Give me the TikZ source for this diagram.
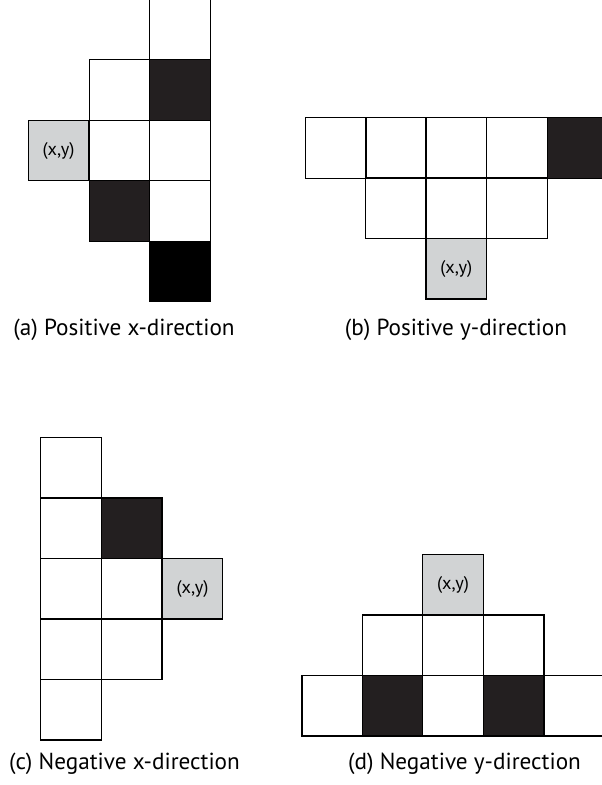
\documentclass[tikz,border=0pt]{standalone}
\usepackage{fontspec}
\setmainfont{PT Sans}
\usetikzlibrary{positioning}
\definecolor{cellgray}{HTML}{D1D3D4}
\definecolor{celldark}{HTML}{231F20}
\tikzset{
    cell/.style = {draw, line width=0.9pt, inner sep=0pt, outer sep=0pt, minimum size=1.515cm},
    darkcell/.style = {cell, fill=celldark},
    blackcell/.style = {cell, fill=black},
    xycell/.style = {cell, fill=cellgray, font=\fontsize{13}{15}\selectfont},
    caption/.style = {inner sep=0pt, font=\fontsize{16.5}{19}\selectfont},
}

\begin{document}
\begin{tikzpicture}[x=0.025cm, y=-0.025cm]
    \useasboundingbox (0, 0) rectangle (602, 785);

    % (a) positive x
    \node[xycell] (a xy) at (58.5, 150.5) {(x,y)};
    \node[cell] (a11) at (119.5, 90) {};
    \node[cell] (a12) at (119.5, 150.5) {};
    \node[darkcell] (a13) at (119.5, 211) {};
    \node[cell] (a20) at (180, 30) {};
    \node[darkcell] (a21) at (180, 90) {};
    \node[cell] (a22) at (180, 150.5) {};
    \node[cell] (a23) at (180, 211) {};
    \node[blackcell] (a24) at (180, 271.5) {};
    \node[caption] (cap a) at (124, 330) {(a) Positive x-direction};

    % (b) positive y
    \node[cell] (b00) at (335.7, 148) {};
    \node[cell] (b10) at (396, 148) {};
    \node[cell] (b20) at (456.3, 148) {};
    \node[cell] (b30) at (517, 148) {};
    \node[darkcell] (b40) at (577.7, 148) {};
    \node[cell] (b11) at (396, 208.3) {};
    \node[cell] (b21) at (456.3, 208.3) {};
    \node[cell] (b31) at (517, 208.3) {};
    \node[xycell] (b xy) at (456.3, 268.8) {(x,y)};
    \node[caption] (cap b) at (456, 330) {(b) Positive y-direction};

    % (c) negative x
    \node[cell] (c00) at (71, 468) {};
    \node[cell] (c01) at (71, 528.3) {};
    \node[cell] (c02) at (71, 588.8) {};
    \node[cell] (c03) at (71, 649.3) {};
    \node[cell] (c04) at (71, 709.7) {};
    \node[darkcell] (c11) at (131.8, 528.3) {};
    \node[cell] (c12) at (131.8, 588.8) {};
    \node[cell] (c13) at (131.8, 649.3) {};
    \node[xycell] (c xy) at (192.5, 588.8) {(x,y)};
    \node[caption] (cap c) at (124.5, 764) {(c) Negative x-direction};

    % (d) negative y
    \node[xycell] (d xy) at (453, 584.5) {(x,y)};
    \node[cell] (d11) at (392.5, 645.3) {};
    \node[cell] (d21) at (453, 645.3) {};
    \node[cell] (d31) at (513.7, 645.3) {};
    \node[cell] (d02) at (332.2, 705.8) {};
    \node[darkcell] (d12) at (392.5, 705.8) {};
    \node[cell] (d22) at (453, 705.8) {};
    \node[darkcell] (d32) at (513.7, 705.8) {};
    \node[cell] (d42) at (574.3, 705.8) {};
    \node[caption] (cap d) at (464.5, 764) {(d) Negative y-direction};
\end{tikzpicture}
\end{document}
